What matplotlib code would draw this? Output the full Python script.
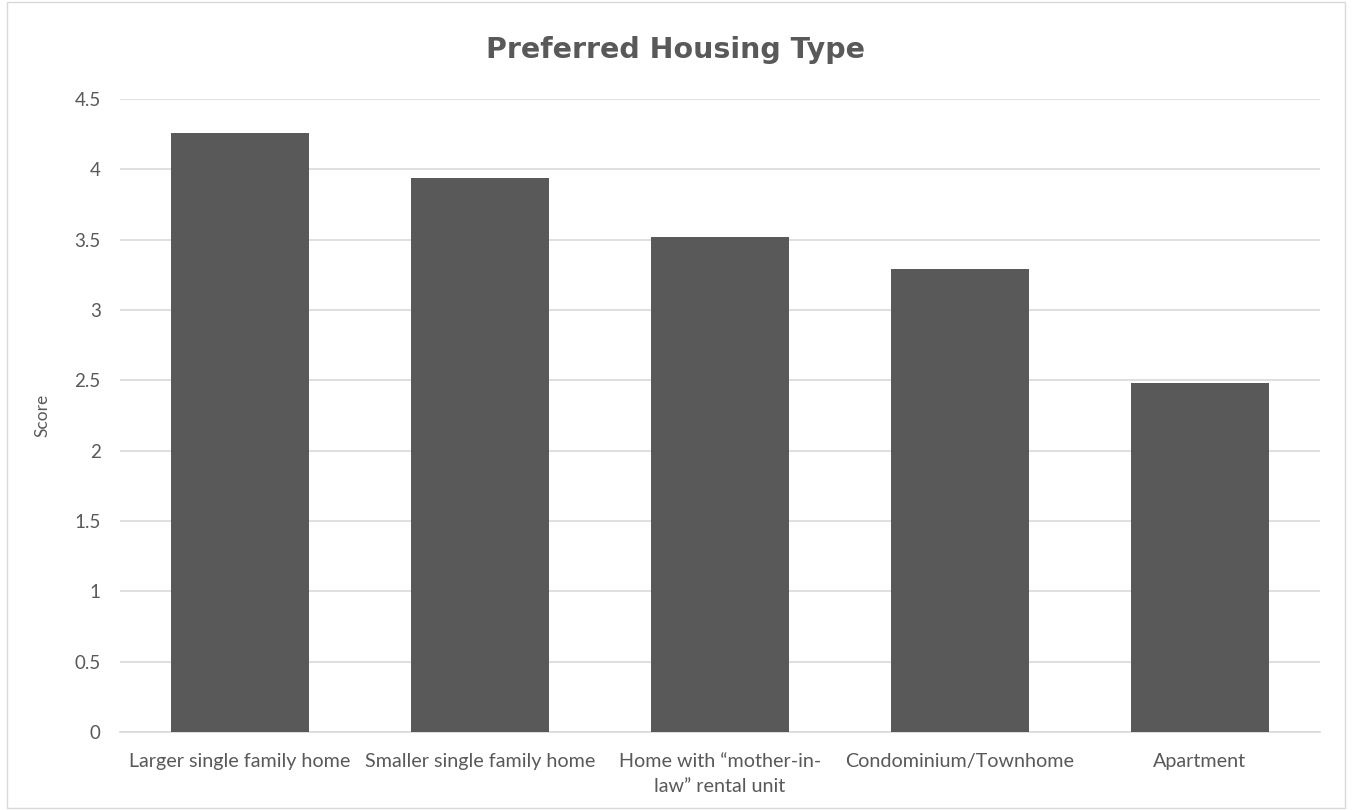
import matplotlib
matplotlib.use("Agg")
import matplotlib.pyplot as plt
from matplotlib.patches import Rectangle

categorias = ["Larger single family home", "Smaller single family home",
              "Home with \u201cmother-in-\nlaw\u201d rental unit",
              "Condominium/Townhome", "Apartment"]
puntajes = [4.26, 3.94, 3.52, 3.29, 2.48]
ticks_y = [0, 0.5, 1, 1.5, 2, 2.5, 3, 3.5, 4, 4.5]
etiquetas_y = ["0", "0.5", "1", "1.5", "2", "2.5", "3", "3.5", "4", "4.5"]

GRIS = "#595959"

fig = plt.figure(figsize=(13.52, 8.1), dpi=100)
ax = fig.add_axes([0.0888, 0.0963, 0.8872, 0.7815])

x = list(range(len(categorias)))
ax.bar(x, puntajes, width=0.576, color=GRIS, zorder=3)

ax.set_xlim(-0.5, len(categorias) - 0.5)
ax.set_ylim(0, 4.5)
ax.set_yticks(ticks_y)
ax.set_yticklabels(etiquetas_y, fontsize=13.5, color=GRIS, family="Lato")
ax.set_xticks(x)
ax.set_xticklabels(categorias, fontsize=14.2, color=GRIS, family="Lato", linespacing=1.6)
ax.tick_params(axis="y", length=0, pad=14)
ax.tick_params(axis="x", length=0, pad=15)

ax.grid(axis="y", color="#d9d9d9", linewidth=1.2, zorder=0)
for lado in ["top", "right", "left"]:
    ax.spines[lado].set_visible(False)
ax.spines["bottom"].set_color("#d9d9d9")
ax.spines["bottom"].set_linewidth(1.2)

ax.set_ylabel("Score", fontsize=12.5, color=GRIS, family="Lato", labelpad=17)

fig.text(0.5, 0.938, "Preferred Housing Type", ha="center", va="center",
         fontsize=20.5, fontweight="bold", color=GRIS, family="DejaVu Sans")

# borde del grafico
fig.patches.append(Rectangle((0.005, 0.002), 0.99, 0.996, transform=fig.transFigure,
                             fill=False, edgecolor="#d9d9d9", linewidth=1))

fig.savefig("out.png", dpi=100)
